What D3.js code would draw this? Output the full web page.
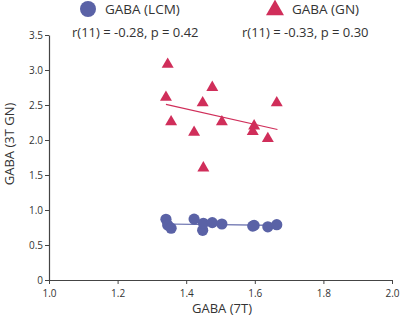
<!DOCTYPE html>
<html><head><meta charset="utf-8">
<script src="https://cdn.jsdelivr.net/npm/d3@7"></script>
<style>body{margin:0;background:#fff}text{font-family:"Open Sans",sans-serif}</style>
</head><body><svg id="c" width="400" height="318"></svg>
<script>
const gaba7T   = [1.341, 1.346, 1.356, 1.423, 1.448, 1.450, 1.476, 1.504, 1.594, 1.598, 1.638, 1.664];
const gabaLCM  = [0.867, 0.786, 0.740, 0.870, 0.710, 0.810, 0.820, 0.800, 0.770, 0.780, 0.760, 0.790];
const gabaGN   = [2.610, 3.080, 2.260, 2.110, 2.530, 1.600, 2.750, 2.260, 2.120, 2.200, 2.020, 2.530];
const fitX     = [1.341, 1.666];
const fitLCM   = [0.800, 0.780];
const fitGN    = [2.510, 2.150];
const xTicks   = [1.0, 1.2, 1.4, 1.6, 1.8, 2.0];
const yTicks   = [0, 0.5, 1.0, 1.5, 2.0, 2.5, 3.0, 3.5];
const seriesNames = ["GABA (LCM)", "GABA (GN)"];
const statsText = ["r(11) = -0.28, p = 0.42", "r(11) = -0.33, p = 0.30"];
const colors = ["#5a62a6", "#d02e5a"];

const svg = d3.select("#c");
const x = d3.scaleLinear().domain([1.0, 2.0]).range([49, 392]);
const y = d3.scaleLinear().domain([0, 3.5]).range([280, 35]);

const fmtY = d => d === 0 ? "0" : d3.format(".1f")(d);
const xAxis = svg.append("g").attr("transform", "translate(0,280)")
  .call(d3.axisBottom(x).tickValues(xTicks).tickFormat(d3.format(".1f")).tickSize(4).tickSizeOuter(0));
const yAxis = svg.append("g").attr("transform", "translate(49,0)")
  .call(d3.axisLeft(y).tickValues(yTicks).tickFormat(fmtY).tickSize(4).tickSizeOuter(0));
[xAxis, yAxis].forEach(g => {
  g.select(".domain").attr("stroke", "#444").attr("stroke-width", 1.2);
  g.selectAll(".tick line").attr("stroke", "#444");
  g.selectAll(".tick text").attr("fill", "#333").style("font-size", "10px").style("font-family", "'Open Sans',sans-serif");
});
xAxis.selectAll(".tick text").attr("dy", "0.95em");
yAxis.selectAll(".tick text").attr("x", -6);

// axis titles
svg.append("text").attr("x", 222).attr("y", 313).attr("text-anchor", "middle")
  .attr("fill", "#333").style("font-size", "13px").text("GABA (7T)");
svg.append("text").attr("transform", "translate(14,144) rotate(-90)").attr("text-anchor", "middle")
  .attr("fill", "#333").style("font-size", "13px").text("GABA (3T GN)");

// fit lines
const line = d3.line().x(d => x(d[0])).y(d => y(d[1]));
svg.append("path").datum(fitX.map((v, i) => [v, fitLCM[i]])).attr("d", line)
  .attr("stroke", colors[0]).attr("stroke-width", 1.2).attr("fill", "none");
svg.append("path").datum(fitX.map((v, i) => [v, fitGN[i]])).attr("d", line)
  .attr("stroke", colors[1]).attr("stroke-width", 1.2).attr("fill", "none");

// points
svg.append("g").selectAll("circle").data(gaba7T).join("circle")
  .attr("cx", d => x(d)).attr("cy", (d, i) => y(gabaLCM[i])).attr("r", 5.6).attr("fill", colors[0]);
const tri = d3.symbol().type(d3.symbolTriangle).size(62);
svg.append("g").selectAll("path").data(gaba7T).join("path")
  .attr("d", tri).attr("transform", (d, i) => `translate(${x(d)},${y(gabaGN[i])})`).attr("fill", colors[1]);

// legend
svg.append("circle").attr("cx", 88).attr("cy", 9).attr("r", 8).attr("fill", colors[0]);
svg.append("text").attr("x", 105).attr("y", 14).attr("fill", "#333").style("font-size", "13.5px").text(seriesNames[0]);
svg.append("path").attr("d", d3.symbol().type(d3.symbolTriangle).size(140)).attr("transform", "translate(275,10)").attr("fill", colors[1]);
svg.append("text").attr("x", 292).attr("y", 14).attr("fill", "#333").style("font-size", "13.5px").text(seriesNames[1]);

// stats
svg.append("text").attr("x", 72).attr("y", 37).attr("fill", "#333").style("font-size", "13px").text(statsText[0]);
svg.append("text").attr("x", 242).attr("y", 37).attr("fill", "#333").style("font-size", "13px").text(statsText[1]);
</script></body></html>
